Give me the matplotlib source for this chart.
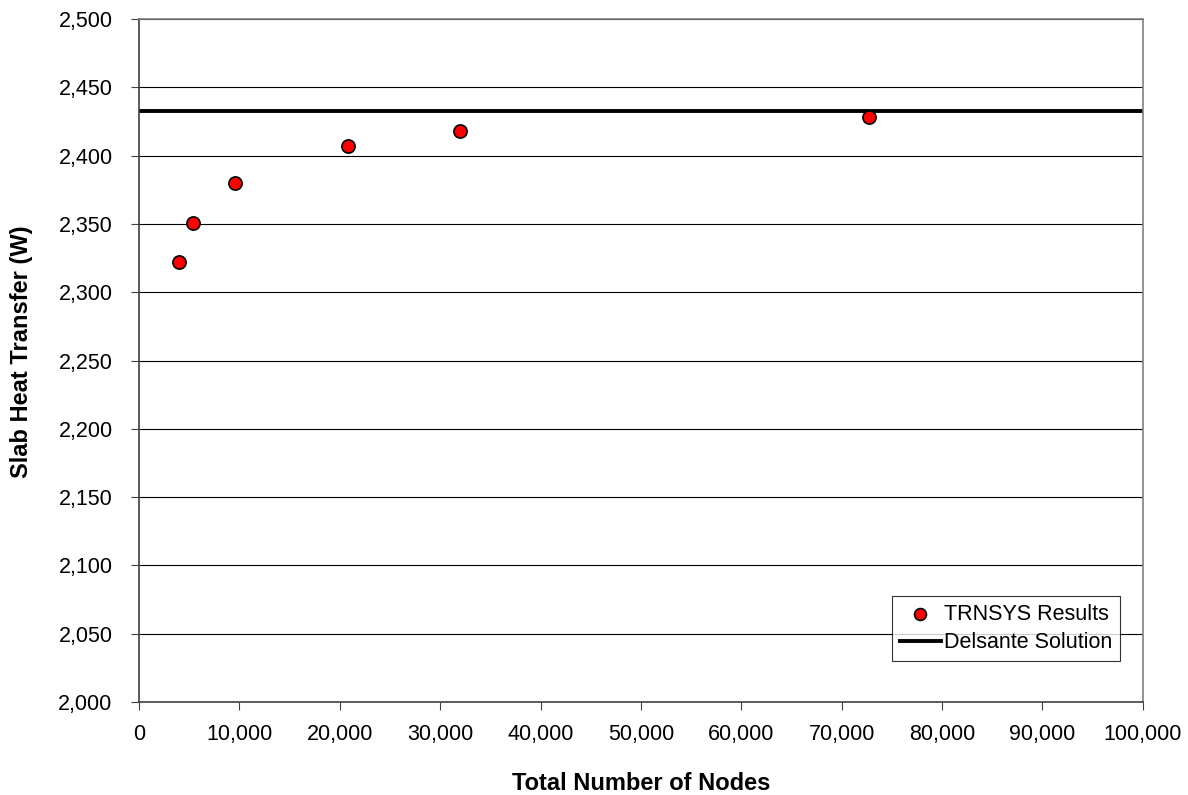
import matplotlib
matplotlib.use('Agg')
import matplotlib.pyplot as plt
from matplotlib.ticker import FuncFormatter, MultipleLocator

plt.rcParams['font.family'] = ['Liberation Sans', 'DejaVu Sans']

# Data
nodes = [4000, 5400, 9600, 20800, 32000, 72700]
heat_transfer = [2322, 2351, 2380, 2407, 2418, 2428]
delsante = 2433

fig = plt.figure(figsize=(11.88, 7.95), dpi=100)
ax = fig.add_axes([0.117, 0.117, 0.845, 0.859])

ax.set_xlim(0, 100000)
ax.set_ylim(2000, 2500)
ax.xaxis.set_major_locator(MultipleLocator(10000))
ax.yaxis.set_major_locator(MultipleLocator(50))
fmt = FuncFormatter(lambda v, p: f'{v:,.0f}')
ax.xaxis.set_major_formatter(fmt)
ax.yaxis.set_major_formatter(fmt)

ax.grid(axis='y', color='black', linewidth=0.8)
ax.set_axisbelow(True)

ax.scatter(nodes, heat_transfer, s=90, color='red', edgecolor='black',
           linewidth=1.2, zorder=3, label='TRNSYS Results')
ax.axhline(delsante, color='black', linewidth=2.8, zorder=2, label='Delsante Solution')

for side in ['left', 'right', 'bottom', 'top']:
    ax.spines[side].set_color('#808080')
    ax.spines[side].set_linewidth(1.2)
ax.spines['left'].set_color('#404040')
ax.spines['bottom'].set_color('#404040')

ax.tick_params(axis='both', labelsize=15.5, direction='out', length=6, color='#404040')
ax.tick_params(axis='x', pad=10)
ax.tick_params(axis='y', pad=13)
ax.set_xlabel('Total Number of Nodes', fontsize=17, fontweight='bold', labelpad=19)
ax.set_ylabel('Slab Heat Transfer (W)', fontsize=17, fontweight='bold')
ax.yaxis.set_label_coords(-0.106, 0.513)

leg = ax.legend(loc='lower right', bbox_to_anchor=(0.977, 0.060), fontsize=15.5,
                frameon=True, fancybox=False, edgecolor='black', handlelength=1.9,
                handletextpad=0.15, borderpad=0.35, labelspacing=0.35, borderaxespad=0,
                markerscale=0.9)
leg.get_frame().set_linewidth(0.8)

fig.savefig('out.png', dpi=100)
